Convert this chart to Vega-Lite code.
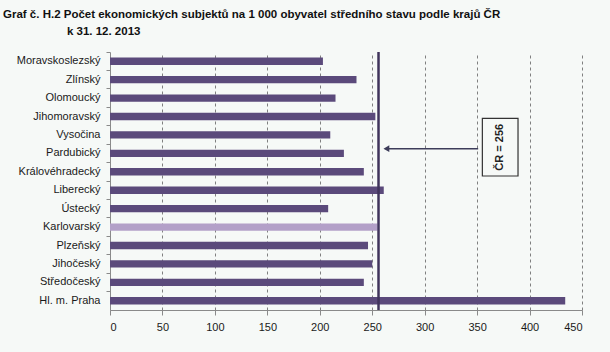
{
  "$schema": "https://vega.github.io/schema/vega-lite/v6.json",
  "width": 472,
  "height": 258,
  "autosize": "none",
  "padding": {"left": 110, "top": 52, "right": 28, "bottom": 42},
  "background": "#f6f9f7",
  "config": {
    "view": {"stroke": null},
    "font": "Liberation Sans"
  },
  "title": {
    "text": ["Graf č. H.2 Počet ekonomických subjektů na 1 000 obyvatel středního stavu podle krajů ČR", "\u200b\u00a0\u00a0\u00a0\u00a0\u00a0\u00a0\u00a0\u00a0\u00a0\u00a0\u00a0\u00a0\u00a0\u00a0\u00a0\u00a0\u00a0\u00a0\u00a0\u00a0k 31. 12. 2013"],
    "anchor": "start",
    "frame": "group",
    "dx": -107,
    "font": "Liberation Sans",
    "fontSize": 11.5,
    "fontWeight": "bold",
    "color": "#111111",
    "lineHeight": 17,
    "offset": 2,
    "baseline": "bottom"
  },
  "datasets": {
    "kraje": [
      {"kraj": "Moravskoslezský", "hodnota": 203},
      {"kraj": "Zlínský", "hodnota": 235},
      {"kraj": "Olomoucký", "hodnota": 215},
      {"kraj": "Jihomoravský", "hodnota": 253},
      {"kraj": "Vysočina", "hodnota": 210},
      {"kraj": "Pardubický", "hodnota": 223},
      {"kraj": "Královéhradecký", "hodnota": 242},
      {"kraj": "Liberecký", "hodnota": 261},
      {"kraj": "Ústecký", "hodnota": 208},
      {"kraj": "Karlovarský", "hodnota": 255},
      {"kraj": "Plzeňský", "hodnota": 246},
      {"kraj": "Jihočeský", "hodnota": 250},
      {"kraj": "Středočeský", "hodnota": 242},
      {"kraj": "Hl. m. Praha", "hodnota": 434}
    ],
    "prumer": [{"kraj": "ČR", "hodnota": 256}]
  },
  "layer": [
    {
      "data": {"name": "kraje"},
      "mark": {"type": "bar", "height": {"band": 0.4}},
      "encoding": {
        "y": {
          "field": "kraj", "type": "nominal", "sort": null, "title": null,
          "scale": {"paddingInner": 0, "paddingOuter": 0},
          "axis": {
            "bandPosition": 0, "domainColor": "#8a8a8a", "tickColor": "#8a8a8a",
            "tickSize": 4, "labelPadding": 6, "labelFontSize": 11, "labelColor": "#1a1a1a",
            "labelFont": "Liberation Sans"
          }
        },
        "x": {
          "field": "hodnota", "type": "quantitative", "title": null,
          "scale": {"domain": [0, 450], "nice": false},
          "axis": {
            "values": [0, 50, 100, 150, 200, 250, 300, 350, 400, 450],
            "domainColor": "#8a8a8a", "tickColor": "#8a8a8a", "tickSize": 5,
            "labelPadding": 6, "labelFontSize": 11, "labelColor": "#1a1a1a",
            "gridColor": "#808080", "gridDash": [3, 3], "gridWidth": 1,
            "labelFont": "Liberation Sans"
          }
        },
        "color": {
          "condition": {"test": "datum.kraj === 'Karlovarský'", "value": "#b3a0c8"},
          "value": "#5b4a7b"
        }
      }
    },
    {
      "data": {"name": "prumer"},
      "mark": {"type": "rule", "color": "#40345c", "strokeWidth": 2.5},
      "encoding": {"x": {"field": "hodnota", "type": "quantitative"}}
    },
    {
      "data": {"name": "prumer"},
      "mark": {"type": "rule", "color": "#3d3d5a", "strokeWidth": 1.5},
      "encoding": {
        "x": {"datum": 263},
        "x2": {"datum": 351},
        "y": {"datum": "Pardubický", "bandPosition": 0.245}
      }
    },
    {
      "data": {"name": "prumer"},
      "mark": {"type": "point", "shape": "triangle-left", "filled": true, "color": "#3d3d5a", "opacity": 1, "size": 45},
      "encoding": {
        "x": {"datum": 263.5},
        "y": {"datum": "Pardubický", "bandPosition": 0.245}
      }
    },
    {
      "data": {"name": "prumer"},
      "mark": {"type": "rect", "fill": "#f6f9f7", "stroke": "#333333", "strokeWidth": 1.2},
      "encoding": {
        "x": {"datum": 355},
        "x2": {"datum": 389},
        "y": {"datum": "Jihomoravský", "bandPosition": 0.6},
        "y2": {"datum": "Královéhradecký", "bandPosition": 0.73}
      }
    },
    {
      "data": {"name": "prumer"},
      "mark": {"type": "text", "angle": 270, "fontWeight": "bold", "fontSize": 11, "color": "#222222", "align": "center", "baseline": "middle"},
      "encoding": {
        "x": {"datum": 372},
        "y": {"datum": "Pardubický", "bandPosition": 0.17},
        "text": {"value": "ČR = 256"}
      }
    }
  ]
}
